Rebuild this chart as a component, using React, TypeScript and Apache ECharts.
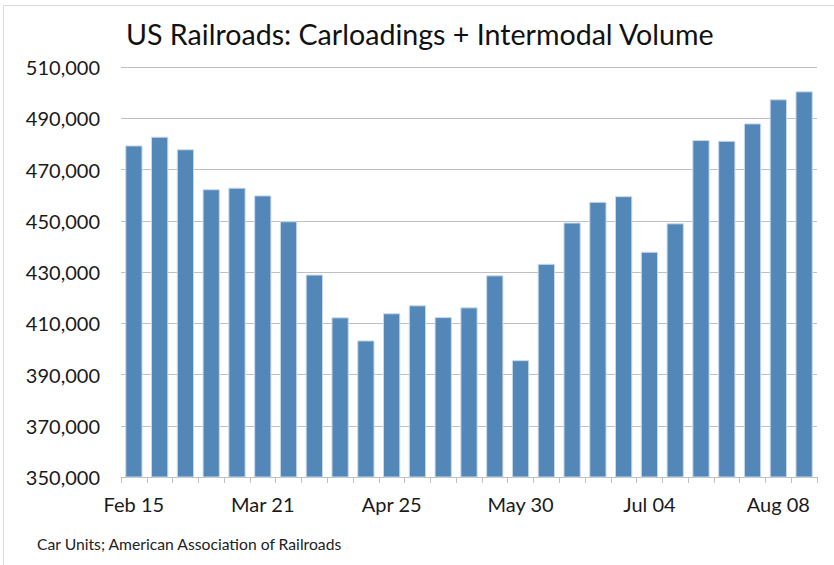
import React, { useEffect, useRef } from "react";
import * as echarts from "echarts";

const categories = [
  "Feb 15", "Feb 22", "Feb 29", "Mar 07", "Mar 14", "Mar 21", "Mar 28",
  "Apr 04", "Apr 11", "Apr 18", "Apr 25", "May 02", "May 09", "May 16",
  "May 23", "May 30", "Jun 06", "Jun 13", "Jun 20", "Jun 27", "Jul 04",
  "Jul 11", "Jul 18", "Jul 25", "Aug 01", "Aug 08", "Aug 15",
];

const volume = [
  479400, 482800, 477900, 462300, 462900, 459900, 449800,
  429000, 412300, 403300, 413900, 417000, 412400, 416200,
  428700, 395600, 433200, 449300, 457400, 459600, 437900,
  449000, 481500, 481200, 488000, 497400, 500500,
];

const titleText = "US Railroads: Carloadings + Intermodal Volume";
const sourceText = "Car Units; American Association of Railroads";

const FONT = "Lato, 'Noto Sans', sans-serif";

export default function App() {
  const ref = useRef<HTMLDivElement>(null);

  useEffect(() => {
    if (!ref.current) return;
    const chart = echarts.init(ref.current, null, { renderer: "svg" });
    chart.setOption({
      animation: false,
      backgroundColor: "#ffffff",
      title: {
        text: titleText,
        left: 121,
        top: 14,
        textStyle: {
          fontFamily: FONT,
          fontSize: 28.6,
          fontWeight: "normal",
          color: "#111111",
        },
      },
      graphic: [
        {
          type: "rect",
          shape: { x: 3.5, y: 5.5, width: 1000, height: 1000 },
          style: { fill: "none", stroke: "#d9d9d9", lineWidth: 1 },
          silent: true,
        },
        {
          type: "text",
          left: 37,
          top: 536,
          style: {
            text: sourceText,
            fontFamily: FONT,
            fontSize: 15.7,
            fill: "#222222",
          },
        },
      ],
      grid: {
        left: 121,
        right: 17,
        top: 67,
        bottom: 88,
        containLabel: false,
      },
      xAxis: {
        type: "category",
        data: categories,
        axisLine: { show: true, lineStyle: { color: "#bfbfbf", width: 1 } },
        axisTick: {
          show: true,
          interval: 0,
          alignWithLabel: false,
          length: 6,
          lineStyle: { color: "#bfbfbf" },
        },
        axisLabel: {
          interval: 4,
          fontFamily: FONT,
          fontSize: 20,
          color: "#1a1a1a",
          margin: 17,
        },
      },
      yAxis: {
        type: "value",
        min: 350000,
        max: 510000,
        interval: 20000,
        axisLine: { show: false },
        axisTick: { show: false },
        splitLine: { show: true, lineStyle: { color: "#c0c0c0", width: 1 } },
        axisLabel: {
          fontFamily: FONT,
          fontSize: 20,
          color: "#1a1a1a",
          margin: 21,
          formatter: (v: number) => v.toLocaleString("en-US"),
        },
      },
      series: [
        {
          type: "bar",
          data: volume,
          barCategoryGap: "33%",
          itemStyle: {
            color: "#5387b7",
            borderColor: "#c9daea",
            borderWidth: 1,
          },
        },
      ],
    });
    return () => chart.dispose();
  }, []);

  return (
    <div
      ref={ref}
      style={{ position: "absolute", left: 0, top: 0, width: 834, height: 565 }}
    />
  );
}
